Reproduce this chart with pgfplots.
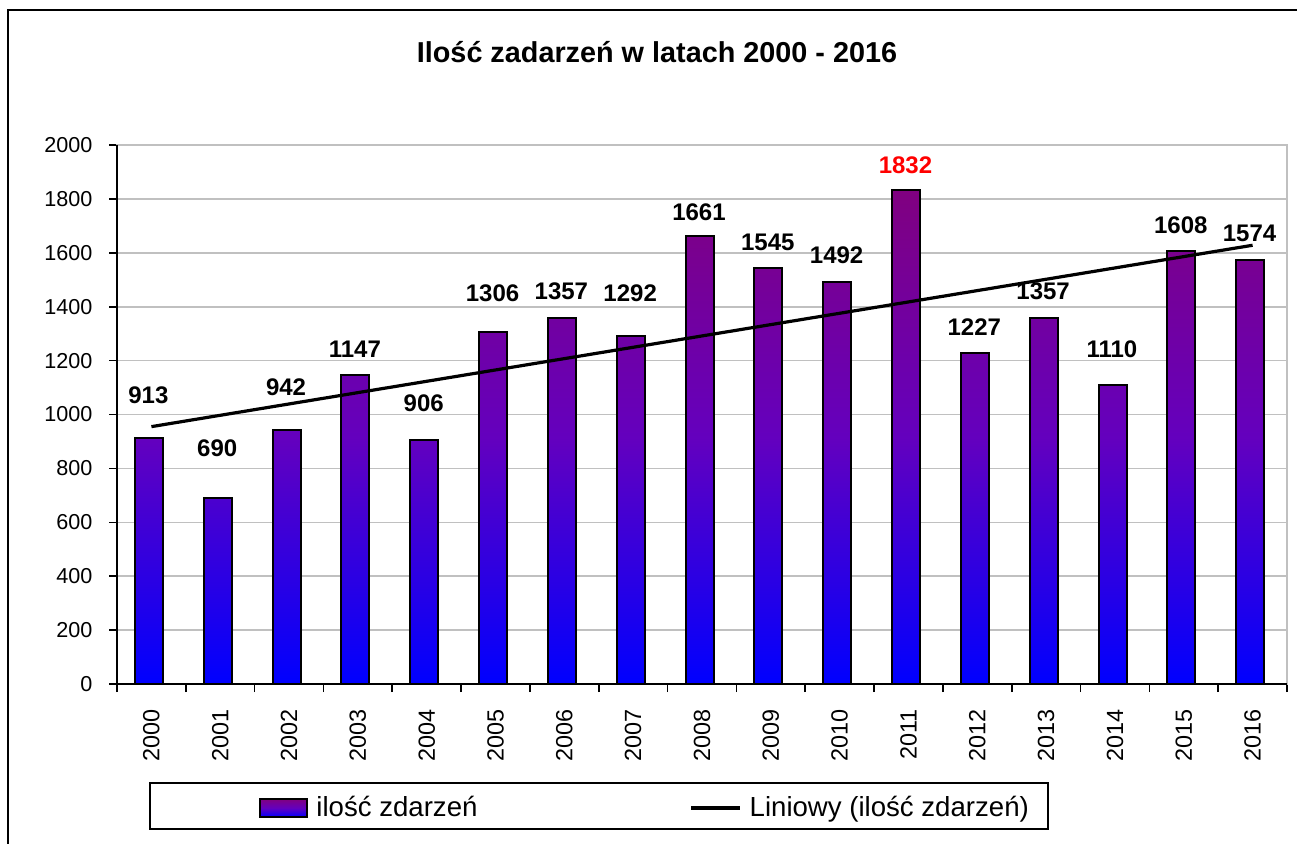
\documentclass[border=0pt]{standalone}
\usepackage{fontspec}
\setmainfont{Liberation Sans}
\usepackage{pgfplots}
\pgfplotsset{compat=1.18}
\definecolor{barTop}{RGB}{128,0,128}
\definecolor{barMid}{RGB}{100,0,190}
\definecolor{barBot}{RGB}{0,0,255}
\definecolor{gridc}{RGB}{192,192,192}
\definecolor{lblred}{RGB}{255,0,0}
\begin{document}
\begin{tikzpicture}
\useasboundingbox (0,0) rectangle (648.5pt,421.5pt);
\draw[black, line width=1.2pt] (4pt,-5pt) -- (4pt,416.5pt) -- (655pt,416.5pt);
\node[font=\fontsize{14.4}{17}\selectfont\bfseries] at (328.5pt,395.5pt) {Ilość zadarzeń w latach 2000 - 2016};
\begin{axis}[
  at={(58.5pt,79.5pt)}, anchor=south west,
  scale only axis, width=585pt, height=269.5pt,
  xmin=-0.5, xmax=16.5, ymin=0, ymax=2000,
  xtick={-0.5,0.5,...,16.5},
  xticklabels={},
  extra x ticks={0,1,...,16},
  extra x tick labels={2000,2001,2002,2003,2004,2005,2006,2007,2008,2009,2010,2011,2012,2013,2014,2015,2016},
  extra x tick style={major tick length=0pt, grid=none},
  ytick={0,200,...,2000},
  scaled y ticks=false,
  /pgf/number format/1000 sep={},
  /pgf/number format/assume math mode=true,
  ymajorgrids, grid style={gridc, line width=0.8pt},
  tick align=outside, tick pos=left,
  major tick length=4pt,
  tick style={black, line width=0.8pt},
  axis line style={gridc, line width=0.8pt},
  xticklabel style={rotate=90, anchor=east, font=\fontsize{11.7}{14}\selectfont},
  yticklabel style={font=\fontsize{10.8}{13}\selectfont},
  xticklabel shift=9.3pt,
  yticklabel shift=4.8pt,
  legend style={draw=none, fill=none, at={(0.1214,-0.230)}, anchor=west,
    font=\fontsize{13.8}{16}\selectfont, inner sep=0pt,
    /tikz/every odd column/.append style={column sep=2pt},
    /tikz/every even column/.append style={column sep=104pt}},
  legend columns=2,
  legend cell align=left,
  clip=false,
]
\addplot[ybar, bar width=14pt, bar shift=-1.2pt, draw=black, line width=1pt,
  top color=barTop, bottom color=barBot, middle color=barMid,
  legend image code/.code={\draw[draw=black, line width=1pt, top color=barTop, bottom color=barBot, middle color=barMid] (0pt,-4.5pt) rectangle (23.5pt,4.5pt);}]
coordinates {(0,913) (1,690) (2,942) (3,1147) (4,906) (5,1306) (6,1357) (7,1292) (8,1661) (9,1545) (10,1492) (11,1832) (12,1227) (13,1357) (14,1110) (15,1608) (16,1574)};
\addlegendentry{ilość zdarzeń}
\addplot[black, line width=1.6pt, mark=none,
  legend image code/.code={\draw[black, line width=1.6pt] (0pt,0pt) -- (24.5pt,0pt);}]
coordinates {(0,955) (16,1628)};
\addlegendentry{Liniowy (ilość zdarzeń)}
\addplot[forget plot, only marks, mark=*, mark size=0pt, mark options={draw=none, fill=none},
  point meta=explicit symbolic, nodes near coords,
  nodes near coords style={font=\fontsize{12}{14}\selectfont\bfseries, anchor=center, xshift=-1.5pt, text=black}]
coordinates {(0,1072)[913] (1,876)[690] (2,1102)[942] (3,1243)[1147] (4,1043)[906] (5,1451)[1306] (6,1458)[1357] (7,1451)[1292] (8,1751)[1661] (9,1640)[1545] (10,1592)[1492] (12,1325)[1227] (13,1458)[1357] (14,1243)[1110] (15,1703)[1608] (16,1673)[1574]};
\addplot[forget plot, only marks, mark=*, mark size=0pt, mark options={draw=none, fill=none},
  point meta=explicit symbolic, nodes near coords,
  nodes near coords style={font=\fontsize{12}{14}\selectfont\bfseries, anchor=center, xshift=-1.5pt, text=lblred}]
coordinates {(11,1926)[1832]};
\draw[black, line width=1pt] (rel axis cs:0,1) -- (rel axis cs:0,0) -- (rel axis cs:1,0);
\end{axis}
\draw[black, line width=0.8pt] (75pt,7pt) rectangle (524pt,30pt);
\end{tikzpicture}
\end{document}
